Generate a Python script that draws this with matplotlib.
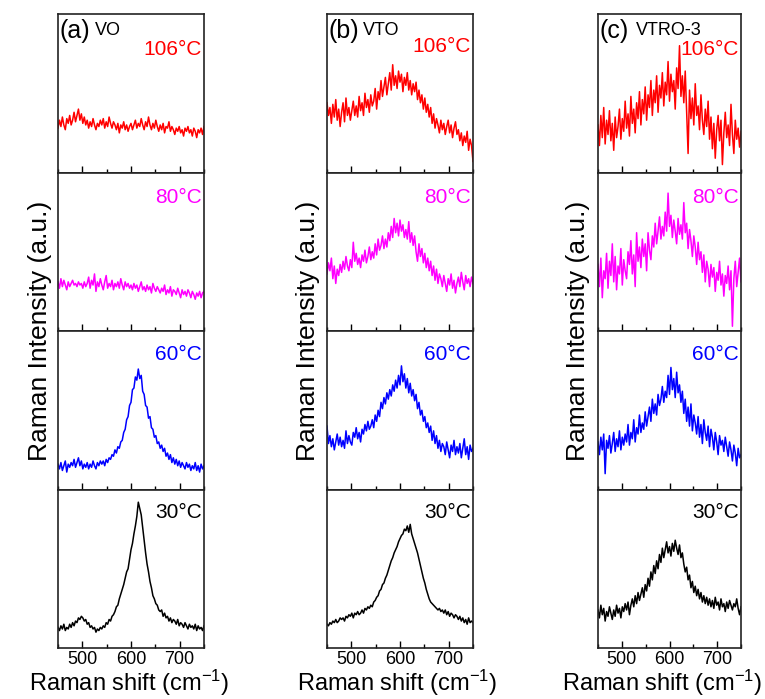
import numpy as np
import matplotlib
matplotlib.use("Agg")
import matplotlib.pyplot as plt
from matplotlib.ticker import MultipleLocator

plt.rcParams["font.family"] = ["Liberation Sans", "DejaVu Sans"]
plt.rcParams["mathtext.fontset"] = "custom"
plt.rcParams["mathtext.rm"] = "Liberation Sans"
plt.rcParams["mathtext.it"] = "Liberation Sans:italic"

# === Raman shift axis (cm^-1), one sample every 3 cm^-1 ===
shift = np.arange(450, 751, 3)

# === Intensities (fraction of panel height) ===
vo_106 = [0.28, 0.33, 0.29, 0.35, 0.30, 0.27, 0.34, 0.31, 0.36, 0.30,
          0.33, 0.38, 0.32, 0.36, 0.40, 0.33, 0.37, 0.31, 0.35, 0.30,
          0.33, 0.28, 0.32, 0.29, 0.34, 0.30, 0.27, 0.31, 0.29, 0.33,
          0.30, 0.34, 0.28, 0.32, 0.29, 0.35, 0.31, 0.28, 0.32, 0.30,
          0.27, 0.31, 0.25, 0.30, 0.28, 0.32, 0.27, 0.30, 0.26, 0.29,
          0.31, 0.27, 0.30, 0.33, 0.28, 0.31, 0.29, 0.34, 0.30, 0.27,
          0.32, 0.29, 0.35, 0.30, 0.27, 0.31, 0.28, 0.33, 0.29, 0.26,
          0.30, 0.27, 0.31, 0.25, 0.29, 0.28, 0.32, 0.26, 0.29, 0.27,
          0.24, 0.28, 0.26, 0.29, 0.25, 0.27, 0.23, 0.28, 0.26, 0.29,
          0.25, 0.27, 0.23, 0.28, 0.26, 0.22, 0.27, 0.25, 0.28, 0.24,
          0.29]
vo_80 = [0.31, 0.27, 0.33, 0.28, 0.32, 0.29, 0.26, 0.31, 0.28, 0.30,
         0.32, 0.29, 0.30, 0.28, 0.31, 0.29, 0.30, 0.27, 0.31, 0.28,
         0.30, 0.34, 0.27, 0.32, 0.29, 0.36, 0.25, 0.31, 0.28, 0.33,
         0.29, 0.26, 0.31, 0.35, 0.27, 0.30, 0.28, 0.32, 0.26, 0.30,
         0.28, 0.31, 0.27, 0.33, 0.29, 0.26, 0.31, 0.28, 0.30, 0.27,
         0.29, 0.26, 0.30, 0.27, 0.29, 0.25, 0.28, 0.31, 0.26, 0.28,
         0.25, 0.29, 0.26, 0.28, 0.24, 0.30, 0.27, 0.25, 0.28, 0.26,
         0.24, 0.27, 0.25, 0.29, 0.23, 0.26, 0.24, 0.28, 0.22, 0.26,
         0.25, 0.23, 0.27, 0.24, 0.21, 0.26, 0.23, 0.25, 0.22, 0.26,
         0.24, 0.21, 0.25, 0.23, 0.20, 0.24, 0.22, 0.25, 0.21, 0.24,
         0.25]
vo_60 = [0.16, 0.13, 0.17, 0.12, 0.15, 0.18, 0.11, 0.16, 0.14, 0.17,
         0.15, 0.19, 0.14, 0.17, 0.20, 0.15, 0.18, 0.13, 0.16, 0.14,
         0.17, 0.13, 0.16, 0.14, 0.18, 0.15, 0.13, 0.17, 0.15, 0.18,
         0.16, 0.18, 0.15, 0.19, 0.17, 0.20, 0.19, 0.22, 0.21, 0.25,
         0.23, 0.27, 0.26, 0.30, 0.31, 0.36, 0.38, 0.44, 0.46, 0.53,
         0.55, 0.63, 0.64, 0.71, 0.69, 0.76, 0.70, 0.72, 0.62, 0.60,
         0.53, 0.52, 0.45, 0.46, 0.39, 0.38, 0.33, 0.34, 0.29, 0.30,
         0.26, 0.28, 0.24, 0.26, 0.21, 0.23, 0.19, 0.22, 0.17, 0.20,
         0.16, 0.19, 0.15, 0.18, 0.14, 0.17, 0.15, 0.13, 0.17, 0.14,
         0.16, 0.12, 0.15, 0.13, 0.17, 0.12, 0.15, 0.11, 0.16, 0.13,
         0.15]
vo_30 = [0.13, 0.11, 0.14, 0.12, 0.15, 0.11, 0.13, 0.12, 0.15, 0.13,
         0.16, 0.14, 0.17, 0.16, 0.19, 0.18, 0.20, 0.19, 0.17, 0.18,
         0.15, 0.16, 0.13, 0.14, 0.12, 0.13, 0.10, 0.12, 0.11, 0.13,
         0.12, 0.14, 0.13, 0.16, 0.15, 0.18, 0.17, 0.20, 0.21, 0.23,
         0.26, 0.27, 0.31, 0.34, 0.37, 0.40, 0.44, 0.48, 0.50, 0.56,
         0.62, 0.66, 0.72, 0.77, 0.83, 0.92, 0.88, 0.84, 0.76, 0.68,
         0.60, 0.53, 0.48, 0.42, 0.38, 0.33, 0.31, 0.28, 0.27, 0.24,
         0.23, 0.24, 0.20, 0.22, 0.19, 0.20, 0.17, 0.19, 0.16, 0.18,
         0.17, 0.15, 0.18, 0.14, 0.16, 0.15, 0.13, 0.16, 0.14, 0.12,
         0.15, 0.13, 0.14, 0.12, 0.15, 0.11, 0.14, 0.12, 0.13, 0.11,
         0.14]

vto_106 = [0.44, 0.36, 0.41, 0.31, 0.43, 0.35, 0.46, 0.33, 0.40, 0.29,
           0.38, 0.44, 0.32, 0.47, 0.36, 0.41, 0.33, 0.39, 0.45, 0.36,
           0.42, 0.35, 0.48, 0.39, 0.44, 0.36, 0.50, 0.41, 0.46, 0.38,
           0.49, 0.42, 0.45, 0.53, 0.40, 0.51, 0.46, 0.58, 0.48, 0.54,
           0.60, 0.49, 0.56, 0.63, 0.52, 0.68, 0.55, 0.61, 0.53, 0.64,
           0.57, 0.62, 0.51, 0.60, 0.55, 0.63, 0.52, 0.58, 0.49, 0.56,
           0.51, 0.57, 0.46, 0.52, 0.44, 0.49, 0.40, 0.47, 0.38, 0.43,
           0.35, 0.41, 0.31, 0.37, 0.28, 0.34, 0.30, 0.25, 0.33, 0.27,
           0.31, 0.24, 0.29, 0.33, 0.25, 0.30, 0.22, 0.28, 0.32, 0.24,
           0.27, 0.20, 0.25, 0.17, 0.23, 0.19, 0.26, 0.14, 0.21, 0.17,
           0.07]
vto_80 = [0.36, 0.43, 0.38, 0.46, 0.33, 0.41, 0.30, 0.39, 0.35, 0.42,
          0.37, 0.44, 0.39, 0.47, 0.41, 0.38, 0.45, 0.40, 0.56, 0.44,
          0.49, 0.42, 0.46, 0.40, 0.48, 0.44, 0.51, 0.43, 0.47, 0.53,
          0.45, 0.50, 0.46, 0.55, 0.48, 0.58, 0.51, 0.54, 0.60, 0.52,
          0.58, 0.53, 0.62, 0.57, 0.66, 0.59, 0.71, 0.62, 0.68, 0.60,
          0.70, 0.63, 0.67, 0.59, 0.64, 0.58, 0.69, 0.56, 0.62, 0.54,
          0.60, 0.50, 0.44, 0.55, 0.47, 0.52, 0.43, 0.49, 0.40, 0.46,
          0.38, 0.44, 0.35, 0.41, 0.32, 0.39, 0.30, 0.36, 0.33, 0.28,
          0.35, 0.30, 0.25, 0.33, 0.29, 0.36, 0.27, 0.32, 0.24, 0.30,
          0.34, 0.28, 0.37, 0.31, 0.26, 0.35, 0.30, 0.33, 0.28, 0.34,
          0.30]
vto_60 = [0.40, 0.29, 0.34, 0.27, 0.32, 0.25, 0.30, 0.35, 0.28, 0.33,
          0.27, 0.31, 0.26, 0.37, 0.29, 0.34, 0.30, 0.28, 0.36, 0.33,
          0.39, 0.32, 0.36, 0.30, 0.38, 0.35, 0.41, 0.37, 0.43, 0.38,
          0.40, 0.44, 0.39, 0.47, 0.43, 0.50, 0.46, 0.55, 0.51, 0.58,
          0.54, 0.61, 0.57, 0.63, 0.59, 0.66, 0.62, 0.69, 0.64, 0.72,
          0.66, 0.78, 0.68, 0.73, 0.64, 0.70, 0.61, 0.67, 0.59, 0.63,
          0.56, 0.60, 0.51, 0.55, 0.47, 0.50, 0.43, 0.46, 0.39, 0.42,
          0.36, 0.40, 0.31, 0.37, 0.29, 0.34, 0.26, 0.31, 0.24, 0.29,
          0.27, 0.22, 0.30, 0.25, 0.20, 0.28, 0.24, 0.31, 0.22, 0.27,
          0.23, 0.29, 0.20, 0.26, 0.32, 0.22, 0.27, 0.19, 0.28, 0.24,
          0.26]
vto_30 = [0.15, 0.14, 0.16, 0.15, 0.17, 0.16, 0.18, 0.16, 0.17, 0.19,
          0.18, 0.19, 0.17, 0.20, 0.19, 0.21, 0.20, 0.22, 0.19, 0.22,
          0.21, 0.23, 0.21, 0.22, 0.24, 0.22, 0.25, 0.24, 0.26, 0.25,
          0.27, 0.26, 0.29, 0.30, 0.32, 0.33, 0.36, 0.37, 0.40, 0.41,
          0.44, 0.46, 0.49, 0.52, 0.55, 0.57, 0.60, 0.62, 0.64, 0.67,
          0.69, 0.71, 0.72, 0.75, 0.74, 0.77, 0.73, 0.78, 0.72, 0.69,
          0.66, 0.63, 0.60, 0.56, 0.52, 0.48, 0.44, 0.41, 0.37, 0.34,
          0.31, 0.29, 0.28, 0.27, 0.26, 0.25, 0.24, 0.25, 0.23, 0.24,
          0.22, 0.24, 0.21, 0.23, 0.20, 0.22, 0.21, 0.19, 0.21, 0.20,
          0.18, 0.20, 0.17, 0.19, 0.16, 0.18, 0.15, 0.19, 0.16, 0.17,
          0.16]

vtro_106 = [0.30, 0.17, 0.36, 0.22, 0.41, 0.18, 0.33, 0.24, 0.39, 0.20,
            0.31, 0.14, 0.35, 0.22, 0.29, 0.40, 0.21, 0.34, 0.26, 0.45,
            0.28, 0.37, 0.23, 0.48, 0.31, 0.40, 0.25, 0.44, 0.34, 0.51,
            0.30, 0.46, 0.37, 0.54, 0.33, 0.49, 0.41, 0.58, 0.36, 0.52,
            0.44, 0.61, 0.38, 0.55, 0.47, 0.63, 0.42, 0.57, 0.49, 0.70,
            0.45, 0.62, 0.51, 0.58, 0.40, 0.66, 0.53, 0.80, 0.48, 0.61,
            0.44, 0.64, 0.38, 0.12, 0.52, 0.34, 0.47, 0.30, 0.56, 0.36,
            0.42, 0.27, 0.49, 0.33, 0.24, 0.40, 0.29, 0.45, 0.21, 0.35,
            0.15, 0.31, 0.09, 0.27, 0.36, 0.20, 0.33, 0.05, 0.25, 0.38,
            0.22, 0.30, 0.17, 0.43, 0.24, 0.12, 0.33, 0.21, 0.28, 0.16,
            0.26]
vtro_80 = [0.42, 0.28, 0.46, 0.21, 0.38, 0.33, 0.49, 0.27, 0.44, 0.35,
           0.55, 0.31, 0.47, 0.26, 0.41, 0.36, 0.52, 0.29, 0.45, 0.38,
           0.33, 0.50, 0.42, 0.57, 0.36, 0.48, 0.28, 0.62, 0.44, 0.53,
           0.40, 0.58, 0.47, 0.55, 0.38, 0.62, 0.51, 0.45, 0.60, 0.53,
           0.68, 0.55, 0.63, 0.72, 0.58, 0.66, 0.60, 0.75, 0.63, 0.87,
           0.66, 0.73, 0.59, 0.70, 0.63, 0.55, 0.71, 0.61, 0.67, 0.58,
           0.81, 0.62, 0.68, 0.52, 0.64, 0.57, 0.47, 0.60, 0.53, 0.42,
           0.56, 0.45, 0.50, 0.37, 0.48, 0.31, 0.44, 0.39, 0.28, 0.42,
           0.34, 0.40, 0.25, 0.37, 0.32, 0.44, 0.29, 0.36, 0.22, 0.35,
           0.30, 0.41, 0.26, 0.38, 0.03, 0.33, 0.44, 0.28, 0.37, 0.46,
           0.31]
vtro_60 = [0.30, 0.22, 0.33, 0.25, 0.35, 0.10, 0.31, 0.26, 0.34, 0.23,
           0.29, 0.36, 0.24, 0.32, 0.27, 0.37, 0.25, 0.33, 0.28, 0.35,
           0.30, 0.41, 0.28, 0.36, 0.32, 0.44, 0.30, 0.39, 0.35, 0.47,
           0.36, 0.42, 0.38, 0.49, 0.40, 0.46, 0.52, 0.43, 0.57, 0.48,
           0.54, 0.47, 0.60, 0.53, 0.57, 0.65, 0.55, 0.62, 0.58, 0.72,
           0.60, 0.77, 0.63, 0.70, 0.58, 0.74, 0.61, 0.66, 0.55, 0.62,
           0.48, 0.57, 0.43, 0.52, 0.40, 0.54, 0.37, 0.47, 0.42, 0.35,
           0.46, 0.33, 0.41, 0.29, 0.44, 0.36, 0.31, 0.40, 0.27, 0.38,
           0.33, 0.25, 0.36, 0.30, 0.22, 0.34, 0.28, 0.31, 0.24, 0.33,
           0.27, 0.21, 0.30, 0.25, 0.18, 0.28, 0.23, 0.15, 0.26, 0.20,
           0.22]
vtro_30 = [0.24, 0.19, 0.27, 0.21, 0.25, 0.17, 0.23, 0.20, 0.26, 0.22,
           0.18, 0.24, 0.20, 0.27, 0.22, 0.25, 0.19, 0.26, 0.23, 0.28,
           0.24, 0.29, 0.21, 0.27, 0.31, 0.26, 0.33, 0.28, 0.35, 0.30,
           0.34, 0.38, 0.32, 0.40, 0.36, 0.44, 0.39, 0.48, 0.43, 0.52,
           0.47, 0.55, 0.50, 0.59, 0.54, 0.63, 0.57, 0.62, 0.67, 0.60,
           0.64, 0.58, 0.66, 0.61, 0.68, 0.63, 0.59, 0.65, 0.57, 0.60,
           0.53, 0.48, 0.51, 0.43, 0.46, 0.38, 0.42, 0.35, 0.39, 0.33,
           0.37, 0.31, 0.35, 0.29, 0.33, 0.28, 0.32, 0.27, 0.31, 0.26,
           0.30, 0.25, 0.32, 0.27, 0.29, 0.24, 0.31, 0.26, 0.28, 0.23,
           0.29, 0.25, 0.30, 0.27, 0.24, 0.28, 0.26, 0.31, 0.25, 0.21,
           0.26]

temps = ["106°C", "80°C", "60°C", "30°C"]
colors = ["#ff0000", "#ff00ff", "#0000ff", "#000000"]
panel_tags = ["(a)", "(b)", "(c)"]
samples = ["VO", "VTO", "VTRO-3"]
spectra = [
    [vo_106, vo_80, vo_60, vo_30],
    [vto_106, vto_80, vto_60, vto_30],
    [vtro_106, vtro_80, vtro_60, vtro_30],
]

# === Layout (pixels) ===
W, H = 765, 699
fig = plt.figure(figsize=(W / 100, H / 100), dpi=100)
col_left = [58, 327, 598]
col_right = [204, 473, 741]
col_ylabel_x = [40, 308, 578]
xlabel_right = [229, 497, 762]
top_px, bottom_px = 14, 648
panel_h = (bottom_px - top_px) / 4
name_x = [0.25, 0.245, 0.265]
temp_y = [0.74, 0.81, 0.82, 0.82]

for c in range(3):
    for r in range(4):
        y0 = bottom_px - (4 - r) * panel_h
        ax = fig.add_axes([col_left[c] / W, 1 - (y0 + panel_h) / H,
                           (col_right[c] - col_left[c]) / W, panel_h / H])
        ax.plot(shift, spectra[c][r], color=colors[r], lw=1.1)
        ax.set_xlim(450, 750)
        ax.set_ylim(0, 1)
        ax.set_yticks([])
        ax.xaxis.set_major_locator(MultipleLocator(100))
        ax.xaxis.set_minor_locator(MultipleLocator(50))
        ax.tick_params(axis="x", which="major", direction="in", length=5,
                       width=1.0, labelsize=13, pad=2)
        ax.tick_params(axis="x", which="minor", direction="in", length=3,
                       width=1.0)
        if r < 3:
            ax.tick_params(axis="x", labelbottom=False)
        for s in ax.spines.values():
            s.set_linewidth(1.2)
            s.set_color("#222222")
        ty = temp_y[r] if not (r == 0 and c == 1) else 0.76
        ax.text(0.985, ty, temps[r], transform=ax.transAxes, ha="right",
                va="baseline", color=colors[r], fontsize=15)
        if r == 0:
            ax.text(0.01, 0.85, panel_tags[c], transform=ax.transAxes,
                    ha="left", va="baseline", fontsize=18)
            ax.text(name_x[c], 0.865, samples[c], transform=ax.transAxes,
                    ha="left", va="baseline", fontsize=13)

    fig.text(col_ylabel_x[c] / W, 1 - 331 / H, "Raman Intensity (a.u.)",
             rotation=90, ha="center", va="center", fontsize=19)
    fig.text(xlabel_right[c] / W, 1 - 683 / H,
             r"Raman shift (cm$^{-1}$)", ha="right", va="center",
             fontsize=17)

fig.savefig("out.png", dpi=100)
